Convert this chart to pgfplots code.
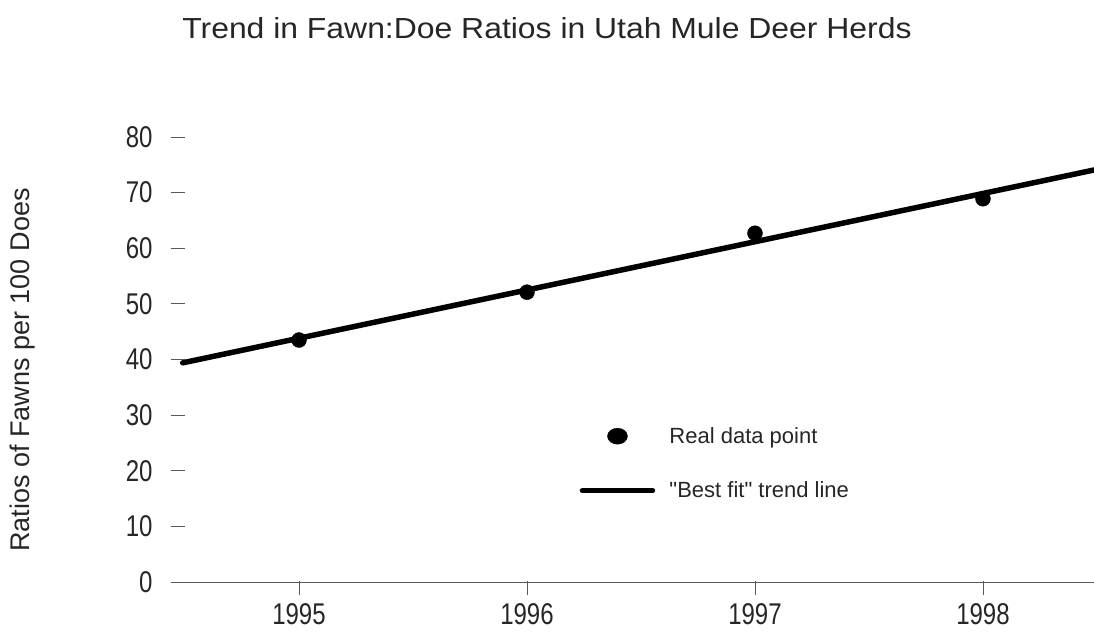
\documentclass[border=0pt]{standalone}
\usepackage{fontspec}
\setmainfont{Liberation Sans}[FakeStretch=0.8]
\newfontfamily\titlefont{Liberation Sans}[FakeStretch=1.1]
\newfontfamily\labelfont{Liberation Sans}[FakeStretch=1.0]
\usepackage{pgfplots}
\pgfplotsset{compat=1.18}
\begin{document}
\begin{tikzpicture}
\useasboundingbox (-172pt,-50pt) rectangle (922pt,582pt);
\begin{axis}[
  at={(0,0)}, anchor=south west,
  scale only axis, width=922pt, height=445pt,
  xmin=1994.443, xmax=1998.487, ymin=0, ymax=80,
  clip=false,
  axis x line*=bottom, axis y line*=left,
  y axis line style={draw=none},
  x axis line style={-, black!65, line width=0.8pt},
  xtick={1995,1996,1997,1998},
  ytick={0,10,...,80},
  tick align=inside,
  major tick length=14pt,
  tick style={black!65, line width=0.8pt},
  xtick style={yshift=-13pt},
  ytick style={xshift=-1pt},
  xticklabel style={yshift=-18pt, font=\fontsize{30}{32}\selectfont, text=black!85},
  yticklabel style={xshift=-16pt, font=\fontsize{30}{32}\selectfont, text=black!85},
  /pgf/number format/assume math mode=true,
  xticklabel={\pgfmathprintnumber[1000 sep={}]{\tick}},
  title={Trend in Fawn:Doe Ratios in Utah Mule Deer Herds},
  title style={at={(axis description cs:0.4067,1.231)}, anchor=center, text=black!85, font=\titlefont\fontsize{29}{31}\selectfont},
  ylabel={Ratios of Fawns per 100 Does},
  ylabel style={at={(axis description cs:-0.1616,0.4764)}, anchor=center, text=black!85, font=\labelfont\fontsize{27}{29}\selectfont},
  legend style={draw=none, fill=none, at={(axis description cs:0.442,0.2665)}, anchor=west,
    font=\labelfont\fontsize{22}{24}\selectfont, row sep=33pt, inner sep=0pt,
    nodes={inner sep=2pt, text=black!85}},
  legend cell align=left,
]
\addplot[only marks, mark=*, mark size=7.5pt, black,
  legend image code/.code={\fill[black] (35pt,0) ellipse (10pt and 8pt); \path[draw=none] (0,0) -- (85pt,0);}]
  coordinates {(1995,43.5) (1996,52.1) (1997,62.7) (1998,68.9)};
\addlegendentry{Real data point}
\addplot[black, line width=5.5pt, line cap=round,
  legend image code/.code={\draw[black, line width=5.5pt, line cap=round] (0,0) -- (70pt,0); \path[draw=none] (0,0) -- (85pt,0);}]
  coordinates {(1994.49,39.4) (1998.487,74.07)};
\addlegendentry{\symbol{34}Best fit\symbol{34} trend line}
\end{axis}
\end{tikzpicture}
\end{document}
